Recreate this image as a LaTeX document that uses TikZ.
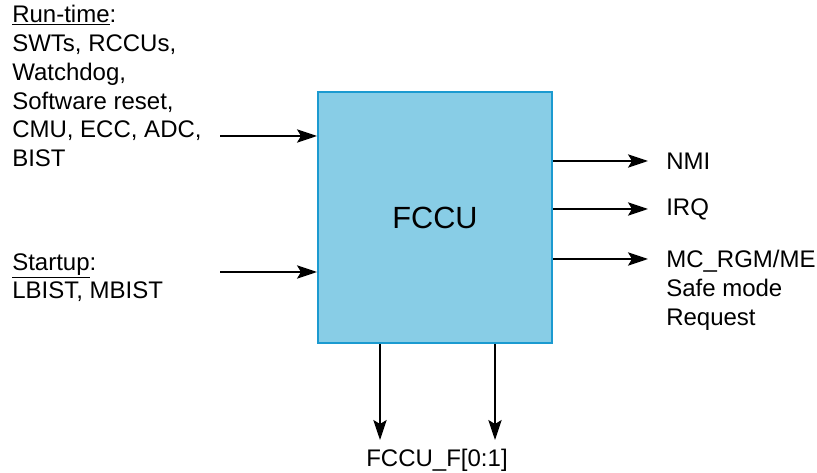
\documentclass[tikz,border=0pt]{standalone}
\usepackage{fontspec}
\setmainfont{Liberation Sans}
\usetikzlibrary{arrows.meta, positioning}
\definecolor{fccufill}{HTML}{88CDE6}
\definecolor{fccuedge}{HTML}{1B9AD0}
\tikzset{
    block/.style={
        rectangle, draw=fccuedge, fill=fccufill, line width=1.5pt,
        minimum width=175.5pt, minimum height=188.25pt,
        font=\fontsize{23}{27}\selectfont
    },
    arrow/.style={
        -{Stealth[length=15pt, width=10pt, inset=3pt]}, line width=1.4pt
    },
    sigtext/.style={
        align=left, inner sep=0pt, font=\fontsize{18}{21.6}\selectfont
    },
    outtext/.style={
        sigtext, inner xsep=13.5pt
    }
}
\begin{document}
\begin{tikzpicture}[x=0.75pt, y=-0.75pt]
      \useasboundingbox (0,0) rectangle (817,473);

      \node[block] (fccu) at (435,217.5) {FCCU};

      % inputs
      \node[sigtext, anchor=north west] (runtime) at (12,5) {\underline{Run-time}:\\SWTs, RCCUs,\\Watchdog,\\Software reset,\\CMU, ECC, ADC,\\BIST};
      \node[sigtext, anchor=north west] (startup) at (12,253) {\underline{Startup}:\\LBIST, MBIST};
      \coordinate (in1) at (220,136);
      \coordinate (in2) at (220,272);
      \draw[arrow] (in1) -- (in1 -| fccu.west);
      \draw[arrow] (in2) -- (in2 -| fccu.west);

      % outputs
      \node[outtext, anchor=west] (nmi) at (648,161) {NMI};
      \node[outtext, anchor=west] (irq) at (648,209) {IRQ};
      \coordinate (o3) at (648,259);
      \node[outtext, anchor=north west, yshift=6.5pt] (mcrgm) at (o3) {MC\_RGM/ME\\Safe mode\\Request};
      \draw[arrow] (fccu.east |- nmi.west) -- (nmi.west);
      \draw[arrow] (fccu.east |- irq.west) -- (irq.west);
      \draw[arrow] (fccu.east |- o3) -- (o3);

      % fault pins
      \coordinate (f0) at (380,440);
      \coordinate (f1) at (495,440);
      \draw[arrow] (fccu.south -| f0) -- (f0);
      \draw[arrow] (fccu.south -| f1) -- (f1);
      \node[sigtext, anchor=base] (fccuf) at (437,466) {FCCU\_F[0:1]};
\end{tikzpicture}
\end{document}
